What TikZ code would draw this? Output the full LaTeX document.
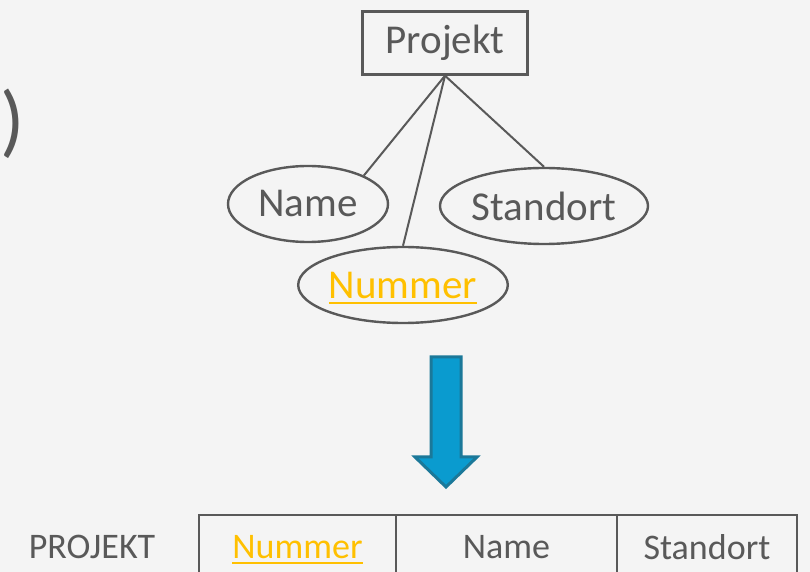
\documentclass[tikz,border=0pt]{standalone}
\usepackage{fontspec}
\setmainfont{Carlito}
\usetikzlibrary{shapes.geometric}
\definecolor{bg}{HTML}{F4F4F4}
\definecolor{ink}{HTML}{595959}
\definecolor{keycol}{HTML}{FFC000}
\definecolor{arrowfill}{HTML}{0A9BCF}
\definecolor{arrowline}{HTML}{1B7899}
\newcommand{\keyText}[1]{\setbox0=\hbox{#1}\rlap{\smash{\rule[-3pt]{\wd0}{1pt}}}\box0}
\newcommand{\tableCell}[4]{ \draw[cellline] (#1,515) rectangle (#2,600);
  \node[celltext] (#3) at ({(#1+#2)/2},547) {#4}; }
\tikzset{
  entity/.style={draw=ink, line width=1.2pt, text=ink, inner sep=0pt,
    minimum width=82.5pt, minimum height=31.5pt, font=\fontsize{20.5}{24}\selectfont},
  attr/.style={ellipse, draw=ink, line width=1.2pt, text=ink, inner sep=0pt,
    minimum height=38pt, font=\fontsize{20.5}{24}\selectfont},
  link/.style={draw=ink, line width=1pt},
  cellline/.style={draw=ink, line width=1pt},
  celltext/.style={text=ink, font=\fontsize{18}{22}\selectfont}
}
\begin{document}
\begin{tikzpicture}[x=0.5pt, y=-0.5pt]
  \fill[bg] (0,0) rectangle (810,572);
  \clip (0,0) rectangle (810,572);
  % left over bracket
  \node[text=ink, font=\fontsize{40}{44}\selectfont] (paren) at (13,124) {)};
  % ER part
  \node[entity] (proj) at (445,43) {Projekt};
  \node[attr, minimum width=80pt] (name) at (308,204) {Name};
  \node[attr, minimum width=104pt] (standort) at (544,206) {Standort};
  \node[attr, minimum width=103.5pt, text=keycol] (nummer) at (403,285) {\keyText{Nummer}};
  \draw[link] (proj.south) -- (name.27);
  \draw[link] (proj.south) -- (nummer.north);
  \draw[link] (proj.south) -- (standort.north);
  % arrow
  \filldraw[fill=arrowfill, draw=arrowline, line width=1.5pt, line join=miter]
    (431,357) -- (461,357) -- (461,457) -- (477,457) -- (446,487)
    -- (415,457) -- (431,457) -- cycle;
  % relation
  \node[celltext] (rel) at (92,547) {PROJEKT};
  \tableCell{199}{396}{tnummer}{\textcolor{keycol}{\keyText{Nummer}}}
  \tableCell{396}{617}{tname}{Name}
  \tableCell{617}{797}{tstandort}{Standort}
\end{tikzpicture}
\end{document}
